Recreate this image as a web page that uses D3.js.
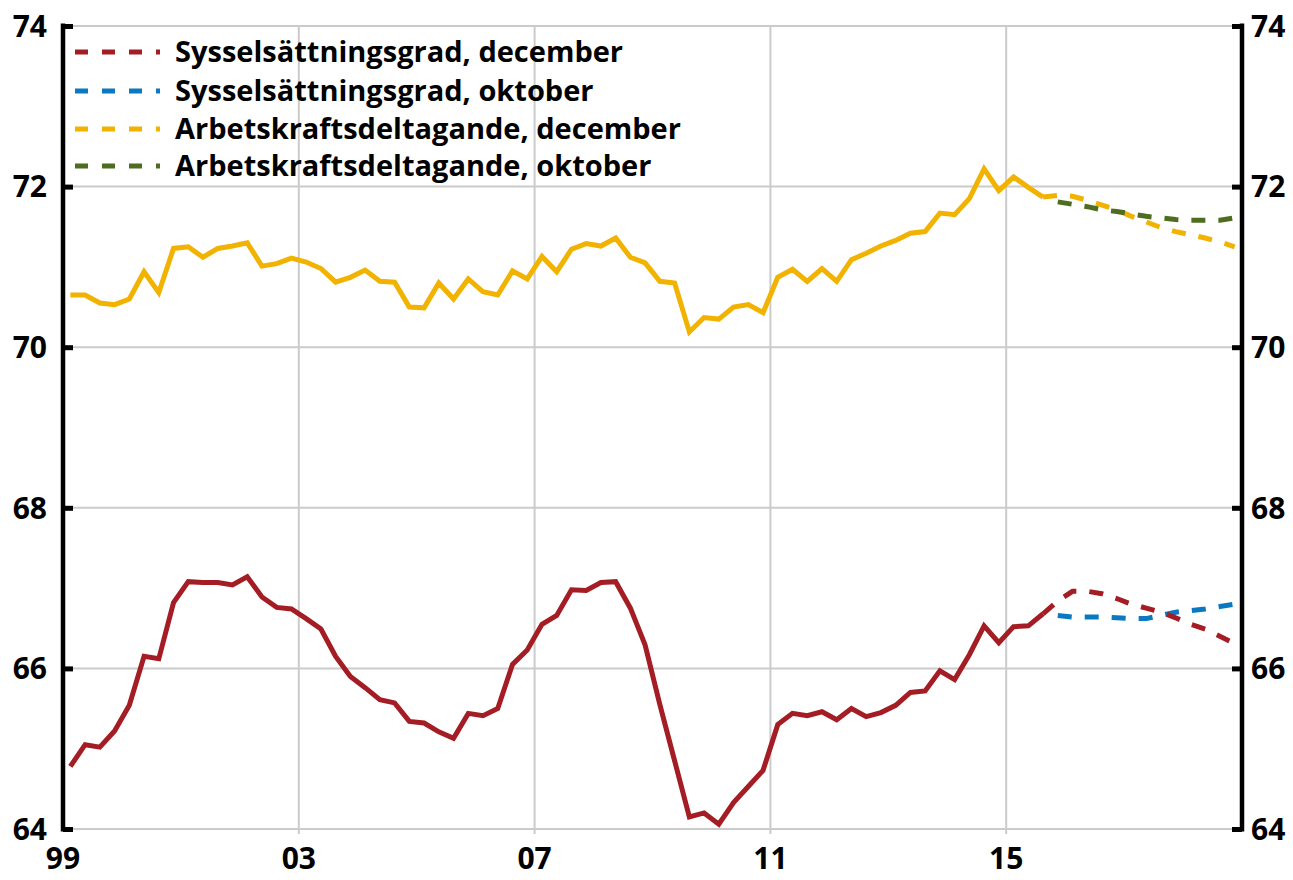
<!DOCTYPE html>
<html>
<head>
<meta charset="utf-8">
<script src="https://cdn.jsdelivr.net/npm/d3@7"></script>
<style>
  html, body { margin: 0; padding: 0; background: #fff; }
  svg { display: block; }
  text { font-family: "Open Sans", "Noto Sans", sans-serif; font-weight: 700; fill: #000; }
</style>
</head>
<body>
<svg id="chart" width="1293" height="880"></svg>
<script>
// Quarterly series, first quarter 1999 K1
const firstYear = 1999;

// Arbetskraftsdeltagande (utfall), 1999 K1 – 2015 K3
const participation = [
  70.65, 70.65, 70.55, 70.53, 70.60, 70.94, 70.68, 71.23, 71.25, 71.12,
  71.23, 71.26, 71.30, 71.01, 71.04, 71.11, 71.06, 70.98, 70.81, 70.87,
  70.96, 70.82, 70.81, 70.50, 70.49, 70.80, 70.60, 70.85, 70.69, 70.65,
  70.95, 70.85, 71.13, 70.94, 71.22, 71.29, 71.26, 71.36, 71.12, 71.05,
  70.82, 70.80, 70.19, 70.37, 70.35, 70.50, 70.53, 70.43, 70.87, 70.97,
  70.82, 70.98, 70.82, 71.09, 71.17, 71.26, 71.33, 71.42, 71.44, 71.67,
  71.65, 71.85, 72.22, 71.95, 72.12, 71.99, 71.87
];

// Sysselsättningsgrad (utfall), 1999 K1 – 2015 K3
const employment = [
  64.78, 65.05, 65.02, 65.22, 65.54, 66.15, 66.12, 66.82, 67.08, 67.07,
  67.07, 67.04, 67.14, 66.89, 66.76, 66.74, 66.62, 66.49, 66.15, 65.90,
  65.76, 65.61, 65.57, 65.34, 65.32, 65.21, 65.13, 65.44, 65.41, 65.50,
  66.05, 66.23, 66.55, 66.66, 66.98, 66.97, 67.07, 67.08, 66.75, 66.29,
  65.55, 64.85, 64.15, 64.20, 64.06, 64.33, 64.53, 64.73, 65.30, 65.44,
  65.41, 65.46, 65.36, 65.50, 65.40, 65.45, 65.54, 65.70, 65.72, 65.97,
  65.86, 66.17, 66.53, 66.32, 66.52, 66.53, 66.68
];

// Prognoser: december från 2015 K3, oktober från 2015 K4, till 2018 K4
const decStartIndex = 66;
const octStartIndex = 67;
const employmentDec = [66.68, 66.84, 66.96, 66.96, 66.93, 66.87, 66.80, 66.75, 66.70, 66.63, 66.55, 66.49, 66.40, 66.31];
const employmentOct = [66.66, 66.64, 66.64, 66.64, 66.63, 66.62, 66.62, 66.66, 66.70, 66.72, 66.74, 66.77, 66.80];
const participationDec = [71.87, 71.89, 71.88, 71.83, 71.77, 71.71, 71.63, 71.56, 71.49, 71.44, 71.40, 71.36, 71.31, 71.25];
const participationOct = [71.81, 71.78, 71.75, 71.71, 71.69, 71.66, 71.63, 71.61, 71.59, 71.58, 71.58, 71.58, 71.61];

// Axes
const yTicks = [64, 66, 68, 70, 72, 74];
const xTickYears = [1999, 2003, 2007, 2011, 2015];
const xTickLabels = ["99", "03", "07", "11", "15"];

const legendItems = [
  { label: "Sysselsättningsgrad, december", color: "#a41d24" },
  { label: "Sysselsättningsgrad, oktober", color: "#0a79c2" },
  { label: "Arbetskraftsdeltagande, december", color: "#f2b200" },
  { label: "Arbetskraftsdeltagande, oktober", color: "#4e6d21" }
];

const colRed = "#a41d24", colBlue = "#0a79c2", colYellow = "#f2b200", colGreen = "#4e6d21";

const svg = d3.select("#chart");
const plotLeft = 63, plotRight = 1242, plotTop = 26, plotBottom = 829;

const x = d3.scaleLinear().domain([1999, 2019]).range([plotLeft, plotRight]);
const y = d3.scaleLinear().domain([64, 74]).range([plotBottom, plotTop]);

// quarter midpoint on the time axis
const qx = i => x(firstYear + (i + 0.5) / 4);

// Grid
const grid = svg.append("g").attr("stroke", "#cbcbcb").attr("stroke-width", 2);
grid.selectAll("line.h").data(yTicks).join("line").attr("class", "h")
  .attr("x1", plotLeft).attr("x2", plotRight)
  .attr("y1", d => y(d)).attr("y2", d => y(d));
grid.selectAll("line.v").data(xTickYears.slice(1)).join("line").attr("class", "v")
  .attr("x1", d => x(d)).attr("x2", d => x(d))
  .attr("y1", plotTop).attr("y2", plotBottom + 5);

// Y axes (left and right), ticks pointing inward
const axisL = d3.axisRight(y).tickValues(yTicks).tickSize(10).tickFormat("");
const axisR = d3.axisLeft(y).tickValues(yTicks).tickSize(10).tickFormat("");

function styleAxis(g) {
  g.select(".domain").remove();
  g.selectAll(".tick line").attr("stroke", "#000").attr("stroke-width", 5);
}
svg.append("g").attr("transform", `translate(${plotLeft},0)`).call(axisL).call(styleAxis);
svg.append("g").attr("transform", `translate(${plotRight},0)`).call(axisR).call(styleAxis);
[plotLeft, plotRight].forEach(px => {
  svg.append("line").attr("x1", px).attr("x2", px)
    .attr("y1", plotTop - 2.5).attr("y2", plotBottom + 2.5)
    .attr("stroke", "#000").attr("stroke-width", 4.5);
});

// Y tick labels
svg.append("g").selectAll("text").data(yTicks).join("text")
  .attr("x", plotLeft - 16).attr("y", d => y(d)).attr("dy", "0.36em")
  .attr("text-anchor", "end").attr("font-size", 30).text(d => d);
svg.append("g").selectAll("text").data(yTicks).join("text")
  .attr("x", plotRight + 9).attr("y", d => y(d)).attr("dy", "0.36em")
  .attr("text-anchor", "start").attr("font-size", 30).text(d => d);

// X tick labels
svg.append("g").selectAll("text").data(xTickYears).join("text")
  .attr("x", d => x(d)).attr("y", 869)
  .attr("text-anchor", "middle").attr("font-size", 30)
  .text((d, i) => xTickLabels[i]);

// Lines
const line = d3.line().x(d => qx(d.i)).y(d => y(d.v));
const toPts = (arr, start) => arr.map((v, k) => ({ i: start + k, v }));

function drawLine(pts, color, dashed) {
  svg.append("path").datum(pts)
    .attr("d", line)
    .attr("fill", "none")
    .attr("stroke", color)
    .attr("stroke-width", 5)
    .attr("stroke-dasharray", dashed ? "14,13" : null);
}

drawLine(toPts(participationDec, decStartIndex), colYellow, true);
drawLine(toPts(participationOct, octStartIndex), colGreen, true);
drawLine(toPts(participation, 0), colYellow, false);

drawLine(toPts(employmentOct, octStartIndex), colBlue, true);
drawLine(toPts(employmentDec, decStartIndex), colRed, true);
drawLine(toPts(employment, 0), colRed, false);

// Legend
const legend = svg.append("g");
const rowY = [52, 91, 129, 166];
legendItems.forEach((item, k) => {
  legend.append("line")
    .attr("x1", 75).attr("x2", 160)
    .attr("y1", rowY[k]).attr("y2", rowY[k])
    .attr("stroke", item.color).attr("stroke-width", 5)
    .attr("stroke-dasharray", "13,14");
  legend.append("text")
    .attr("x", 175).attr("y", rowY[k]).attr("dy", "0.36em")
    .attr("font-size", 29).text(item.label);
});
</script>
</body>
</html>
